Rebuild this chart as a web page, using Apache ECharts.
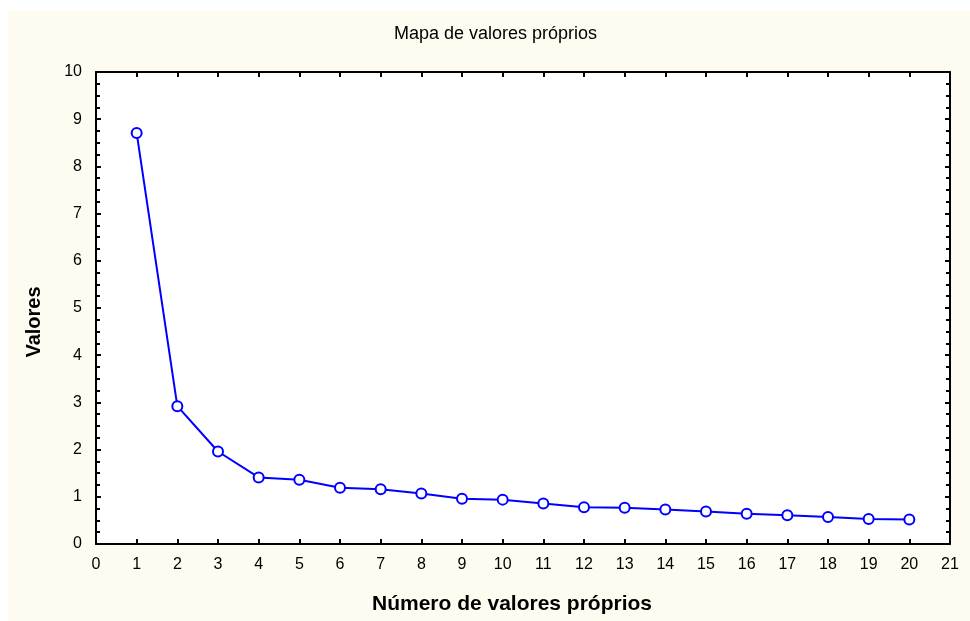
<!DOCTYPE html>
<html>
<head>
<meta charset="utf-8">
<script src="https://cdn.jsdelivr.net/npm/echarts@6/dist/echarts.min.js"></script>
<style>
  html, body { margin: 0; padding: 0; background: #ffffff; }
  #wrap { position: relative; width: 970px; height: 621px; background: #ffffff; }
  #bg { position: absolute; left: 8px; top: 11px; right: 0; bottom: 0; background: #FEFCF0; }
  #chart { position: absolute; left: 0; top: 0; width: 970px; height: 621px; }
</style>
</head>
<body>
<div id="wrap"><div id="bg"></div><div id="chart"></div></div>
<script>
// ---- data ----
const titleText = 'Mapa de valores próprios';
const xAxisName = 'Número de valores próprios';
const yAxisName = 'Valores';
const componentNumbers = [1, 2, 3, 4, 5, 6, 7, 8, 9, 10, 11, 12, 13, 14, 15, 16, 17, 18, 19, 20];
const eigenvalues = [8.71, 2.92, 1.96, 1.41, 1.36, 1.19, 1.16, 1.07, 0.96, 0.94, 0.86, 0.78, 0.77, 0.73, 0.69, 0.64, 0.61, 0.57, 0.53, 0.52];
const xRange = [0, 21];
const yRange = [0, 10];

// ---- chart ----
const FONT = '"Liberation Sans", Arial, Helvetica, sans-serif';
const chart = echarts.init(document.getElementById('chart'), null, { renderer: 'canvas' });
const points = componentNumbers.map((n, i) => [n, eigenvalues[i]]);

const lineBlack = { show: true, onZero: false, lineStyle: { color: '#000', width: 2 } };
const tickIn = { show: true, inside: true, length: 5, lineStyle: { color: '#000', width: 2 } };

chart.setOption({
  animation: false,
  backgroundColor: 'transparent',
  textStyle: { fontFamily: FONT },
  title: {
    text: titleText,
    left: 394,
    top: 25,
    padding: 0,
    textStyle: { fontFamily: FONT, fontSize: 18, fontWeight: 'normal', color: '#000' }
  },
  grid: {
    left: 96, top: 72, right: 20, bottom: 77,
    show: true, backgroundColor: '#ffffff', borderWidth: 0
  },
  xAxis: [
    {
      type: 'value', position: 'bottom', min: xRange[0], max: xRange[1], interval: 1,
      axisLine: lineBlack, axisTick: tickIn, splitLine: { show: false },
      axisLabel: { color: '#000', fontSize: 16, fontFamily: FONT, margin: 13 },
      name: xAxisName, nameLocation: 'middle', nameGap: 50,
      nameTextStyle: { color: '#000', fontSize: 21, fontWeight: 'bold', fontFamily: FONT, padding: [0, 22, 0, 0] }
    },
    {
      type: 'value', position: 'top', min: xRange[0], max: xRange[1], interval: 1,
      axisLine: lineBlack, axisTick: tickIn, splitLine: { show: false },
      axisLabel: { show: false }
    }
  ],
  yAxis: [
    {
      type: 'value', position: 'left', min: yRange[0], max: yRange[1], interval: 1,
      axisLine: lineBlack, axisTick: tickIn, splitLine: { show: false },
      minorTick: { show: true, splitNumber: 4, length: 4, lineStyle: { color: '#000', width: 2 } },
      minorSplitLine: { show: false },
      axisLabel: { color: '#000', fontSize: 16, fontFamily: FONT, margin: 14 },
      name: yAxisName, nameLocation: 'middle', nameRotate: 90, nameGap: 52,
      nameTextStyle: { color: '#000', fontSize: 20, fontWeight: 'bold', fontFamily: FONT, padding: [0, 28, 0, 0] }
    },
    {
      type: 'value', position: 'right', min: yRange[0], max: yRange[1], interval: 1,
      axisLine: lineBlack, axisTick: tickIn, splitLine: { show: false },
      minorTick: { show: true, splitNumber: 4, length: 4, lineStyle: { color: '#000', width: 2 } },
      minorSplitLine: { show: false },
      axisLabel: { show: false }
    }
  ],
  series: [{
    type: 'line',
    data: points,
    xAxisIndex: 0, yAxisIndex: 0,
    symbol: 'circle',
    symbolSize: 10,
    showAllSymbol: true,
    lineStyle: { color: '#0000FF', width: 2 },
    itemStyle: { color: '#ffffff', borderColor: '#0000FF', borderWidth: 2 },
    emphasis: { disabled: true },
    z: 5
  }]
});
</script>
</body>
</html>
